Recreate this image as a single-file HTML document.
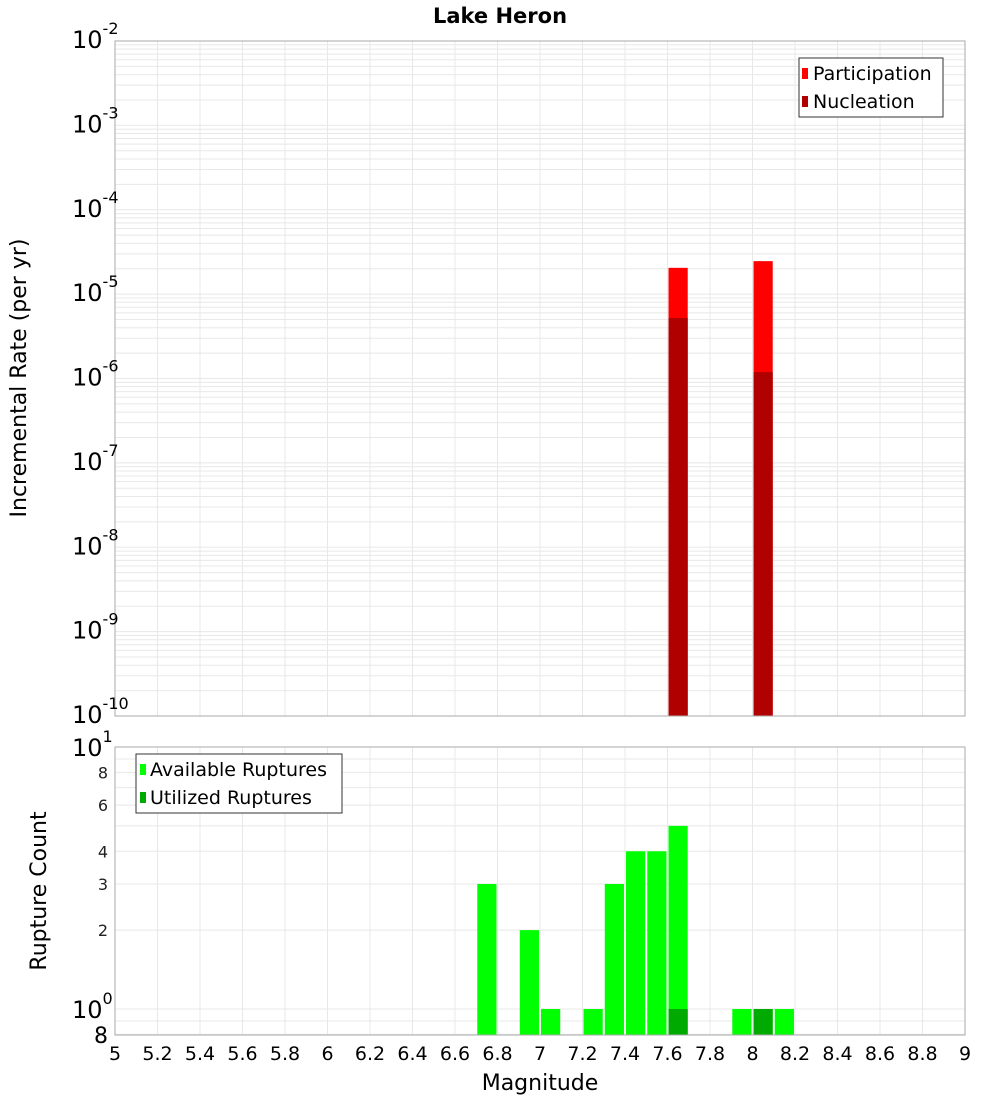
<!DOCTYPE html>
<html><head><meta charset="utf-8"><style>
body{margin:0;background:#fff;}
svg{display:block;font-family:"DejaVu Sans","Liberation Sans",sans-serif;}
</style></head><body>
<svg id="c" width="1000" height="1100" xmlns="http://www.w3.org/2000/svg">
<text x="500" y="23" text-anchor="middle" font-size="21" font-weight="bold">Lake Heron</text>
<g id="topg"></g>
<g id="botg"></g>
<text transform="translate(26,378) rotate(-90)" text-anchor="middle" font-size="22">Incremental Rate (per yr)</text>
<text transform="translate(46,891) rotate(-90)" text-anchor="middle" font-size="22">Rupture Count</text>
<text x="540" y="1090" text-anchor="middle" font-size="22">Magnitude</text>
</svg>
<script>
const rateMags = [7.65, 8.05];
const participation = [2.05e-5, 2.46e-5];
const nucleation = [5.2e-6, 1.19e-6];
const countMags = [6.75, 6.95, 7.05, 7.25, 7.35, 7.45, 7.55, 7.65, 7.95, 8.05, 8.15];
const available = [3, 2, 1, 1, 3, 4, 4, 5, 1, 1, 1];
const utilMags = [7.65, 8.05];
const utilized = [1, 1];
const xTicks = ["5","5.2","5.4","5.6","5.8","6","6.2","6.4","6.6","6.8","7","7.2","7.4","7.6","7.8","8","8.2","8.4","8.6","8.8","9"];
const rateExps = [-2,-3,-4,-5,-6,-7,-8,-9,-10];
const countMinor = [2,3,4,6,8];

const NS="http://www.w3.org/2000/svg";
const L=115,R=965,T1=41,B1=716,T2=747,B2=1035;
const xs=m=>L+(m-5)/4*(R-L);
const y1=v=>B1-(Math.log10(v)+10)/8*(B1-T1);
const y2=v=>1009-Math.log10(v)*262;
function mk(p,t,a){const e=document.createElementNS(NS,t);for(const k in a)e.setAttribute(k,a[k]);p.appendChild(e);return e;}
const topG=document.getElementById('topg'),botG=document.getElementById('botg');
mk(topG,'rect',{x:L,y:T1,width:R-L,height:B1-T1,fill:'#fff'});
for(let e=-10;e<-2;e++)for(let k=1;k<10;k++){const yy=y1(k*Math.pow(10,e));const g=mk(topG,'line',{x1:L,x2:R,y1:yy,y2:yy,stroke:'#e8e8e8','stroke-width':1});

}
for(let i=1;i<20;i++){const xx=xs(5+i*0.2);mk(topG,'line',{x1:xx,x2:xx,y1:T1,y2:B1,stroke:'#e8e8e8'});mk(botG,'line',{x1:xx,x2:xx,y1:T2,y2:B2,stroke:'#e8e8e8'});}
rateMags.forEach((m,i)=>{
 const b=mk(topG,'rect',{x:xs(m)-9.6,y:y1(participation[i]),width:19.2,height:B1-y1(participation[i]),fill:'#ff0000'});
 
 
 const n=mk(topG,'rect',{x:xs(m)-9.6,y:y1(nucleation[i]),width:19.2,height:B1-y1(nucleation[i]),fill:'#b00000'});
 
 
});
mk(topG,'rect',{x:L,y:T1,width:R-L,height:B1-T1,fill:'none',stroke:'#aaa'});
rateExps.forEach(e=>{const yy=y1(Math.pow(10,e));const t=mk(topG,'text',{x:72,y:yy+7,'font-size':24});
 
 
 t.textContent='10';const s=mk(t,'tspan',{dy:-14,'font-size':16});s.textContent=String(e);});
const lg=mk(topG,'g',{});


mk(lg,'rect',{x:799,y:58,width:144,height:59,fill:'#fff',stroke:'#333'});
mk(lg,'rect',{x:802,y:68,width:6,height:11,fill:'#ff0000'});
mk(lg,'rect',{x:802,y:96,width:6,height:11,fill:'#b00000'});
let tx=mk(lg,'text',{x:813,y:80,'font-size':19});tx.textContent='Participation';
tx=mk(lg,'text',{x:813,y:108,'font-size':19});tx.textContent='Nucleation';
[0.8,0.9,1,2,3,4,5,6,7,8,9].forEach(v=>{const yy=y2(v);mk(botG,'line',{x1:L,x2:R,y1:yy,y2:yy,stroke:'#e8e8e8'});});
countMags.forEach((m,i)=>{const b=mk(botG,'rect',{x:xs(m)-9.6,y:y2(available[i]),width:19.2,height:B2-y2(available[i]),fill:'#00ff00'});
 
 });
utilMags.forEach((m,i)=>{const b=mk(botG,'rect',{x:xs(m)-9.6,y:y2(utilized[i]),width:19.2,height:B2-y2(utilized[i]),fill:'#00aa00'});
 
 });
mk(botG,'rect',{x:L,y:T2,width:R-L,height:B2-T2,fill:'none',stroke:'#aaa'});
[1,0].forEach(e=>{const yy=y2(Math.pow(10,e));const tt=mk(botG,'text',{x:72,y:yy+9,'font-size':24});
 
 
 tt.textContent='10';const s=mk(tt,'tspan',{dy:-14,'font-size':16});s.textContent=String(e);});
countMinor.forEach(v=>{const tt=mk(botG,'text',{x:108,y:y2(v)+6,'font-size':16,'text-anchor':'end',fill:'#222'});
 
 
 tt.textContent=String(v);});
tx=mk(botG,'text',{x:108,y:B2+8,'font-size':22,'text-anchor':'end'});tx.textContent='8';
xTicks.forEach(s=>{const tt=mk(botG,'text',{x:xs(parseFloat(s)),y:1060,'font-size':19,'text-anchor':'middle'});
 
 
 tt.textContent=s;});
const lb=mk(botG,'g',{});


mk(lb,'rect',{x:136,y:754,width:206,height:59,fill:'#fff',stroke:'#333'});
mk(lb,'rect',{x:140,y:764,width:6,height:11,fill:'#00ff00'});
mk(lb,'rect',{x:140,y:792,width:6,height:11,fill:'#00aa00'});
tx=mk(lb,'text',{x:150,y:776,'font-size':19});tx.textContent='Available Ruptures';
tx=mk(lb,'text',{x:150,y:804,'font-size':19});tx.textContent='Utilized Ruptures';
</script>
</body></html>
